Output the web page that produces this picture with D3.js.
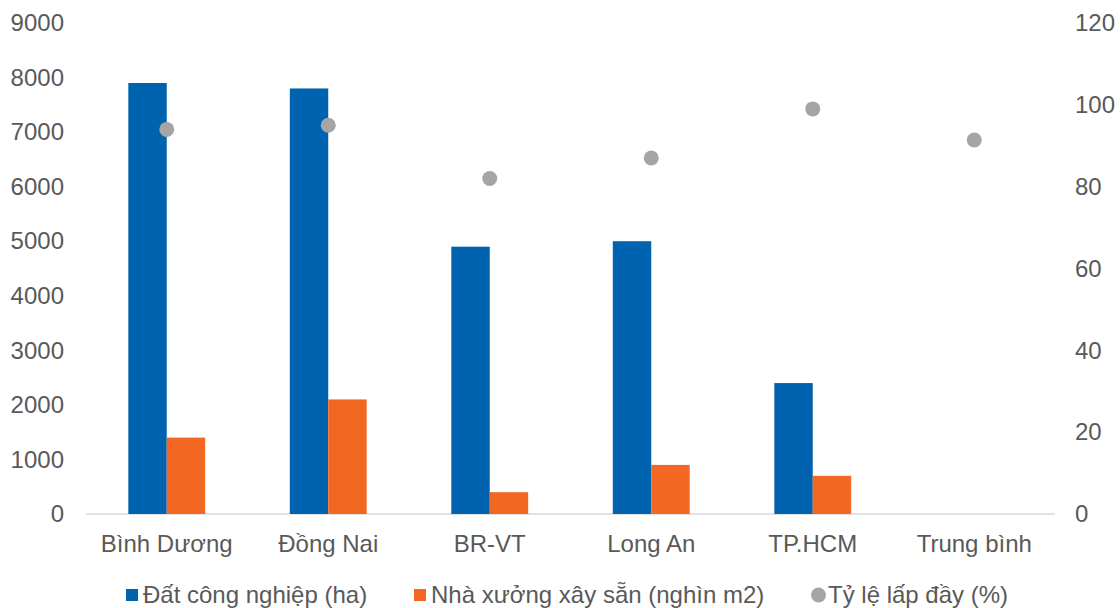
<!DOCTYPE html>
<html><head><meta charset="utf-8">
<script src="https://cdn.jsdelivr.net/npm/d3@7"></script>
<style>body{margin:0;background:#fff;} svg{display:block;} text{font-family:"Liberation Sans",Arial,sans-serif;fill:#595959;}</style>
</head><body>
<svg id="c" width="1120" height="608"></svg>
<script>
const categories = ["Bình Dương","Đồng Nai","BR-VT","Long An","TP.HCM","Trung bình"];
const datCongNghiep = [7900,7800,4900,5000,2400,null];
const nhaXuong = [1400,2100,400,900,700,null];
const tyLe = [94,95,82,87,99,91.4];
const leftTicks = [0,1000,2000,3000,4000,5000,6000,7000,8000,9000];
const rightTicks = [0,20,40,60,80,100,120];
const seriesNames = ["Đất công nghiệp (ha)","Nhà xưởng xây sẵn (nghìn m2)","Tỷ lệ lấp đầy (%)"];
const colors = ["#0063af","#f26722","#a5a5a5"];

const svg = d3.select("#c");
const x = d3.scaleBand().domain(categories).range([86,1055]);
const y = d3.scaleLinear().domain([0,9000]).range([514,23]);
const y2 = d3.scaleLinear().domain([0,120]).range([514,23]);
const fs = 24;
const ff = '"Liberation Sans",Arial,sans-serif';

// baseline
svg.append("line").attr("x1",x.range()[0]).attr("x2",x.range()[1])
  .attr("y1",y(0)).attr("y2",y(0)).attr("stroke","#d9d9d9").attr("stroke-width",1.5);

const bw = x.bandwidth()*0.238;
categories.forEach((c,i)=>{
  const cx = x(c)+x.bandwidth()/2;
  if(datCongNghiep[i]!=null) svg.append("rect").attr("x",cx-bw).attr("width",bw)
    .attr("y",y(datCongNghiep[i])).attr("height",y(0)-y(datCongNghiep[i])).attr("fill",colors[0]);
  if(nhaXuong[i]!=null) svg.append("rect").attr("x",cx).attr("width",bw)
    .attr("y",y(nhaXuong[i])).attr("height",y(0)-y(nhaXuong[i])).attr("fill",colors[1]);
  svg.append("circle").attr("cx",cx).attr("cy",y2(tyLe[i])).attr("r",7.5).attr("fill",colors[2]);
  svg.append("text").attr("x",cx).attr("y",y(0)+38).attr("text-anchor","middle")
    .attr("font-size",fs).text(c);
});

// left axis
const la = svg.append("g").attr("transform","translate(64,0)")
  .call(d3.axisLeft(y).tickValues(leftTicks).tickSize(0).tickPadding(0).tickFormat(d3.format("d")));
la.select(".domain").remove();
la.selectAll("text").attr("font-size",fs).style("font-family",ff).attr("fill","#595959");

const ra = svg.append("g").attr("transform","translate(1075,0)")
  .call(d3.axisRight(y2).tickValues(rightTicks).tickSize(0).tickPadding(0).tickFormat(d3.format("d")));
ra.select(".domain").remove();
ra.selectAll("text").attr("font-size",fs).style("font-family",ff).attr("fill","#595959");

// legend
const legX = [126,414,811];
const ly = 595;
seriesNames.forEach((n,i)=>{
  if(i<2) svg.append("rect").attr("x",legX[i]).attr("y",ly-6).attr("width",12).attr("height",12).attr("fill",colors[i]);
  else svg.append("circle").attr("cx",legX[i]+7.5).attr("cy",ly).attr("r",7.5).attr("fill",colors[i]);
  svg.append("text").attr("x",legX[i]+(i<2?17:17)).attr("y",ly).attr("dy","0.35em").attr("font-size",fs).text(n);
});
</script>
</body></html>
